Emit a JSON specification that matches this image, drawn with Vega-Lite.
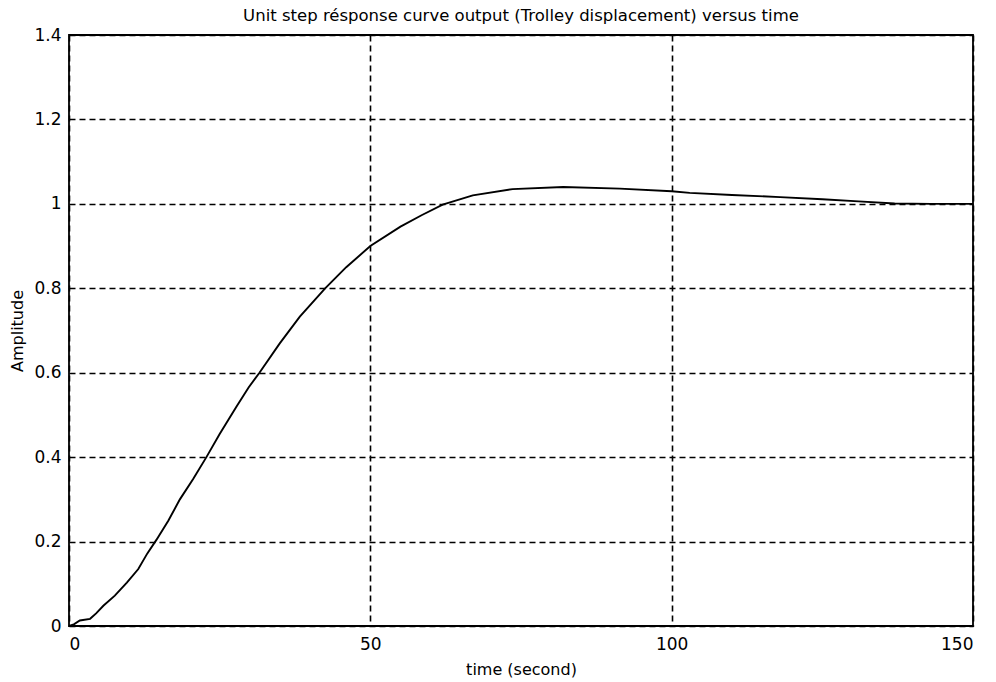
{
  "$schema": "https://vega.github.io/schema/vega-lite/v6.json",
  "width": 904,
  "height": 591,
  "autosize": {"type": "none"},
  "padding": {"left": 69, "top": 35, "right": 23, "bottom": 56},
  "background": "white",
  "title": {
    "text": "Unit step résponse curve output (Trolley displacement) versus time",
    "font": "DejaVu Sans",
    "fontSize": 16.5,
    "fontWeight": "normal",
    "color": "black",
    "anchor": "middle",
    "baseline": "bottom",
    "offset": 9,
    "dy": 23
  },
  "config": {
    "view": {"stroke": "black", "strokeWidth": 1.8},
    "axis": {
      "domain": false,
      "ticks": false,
      "grid": true,
      "gridColor": "black",
      "gridDash": [6, 4],
      "gridWidth": 1.6,
      "gridOpacity": 1,
      "labelFont": "DejaVu Sans",
      "labelFontSize": 17,
      "labelColor": "black",
      "titleFont": "DejaVu Sans",
      "titleFontSize": 16,
      "titleFontWeight": "normal",
      "titleColor": "black"
    }
  },
  "data": {
    "values": [
      {"t": 0, "v": 0},
      {"t": 0.8, "v": 0.004},
      {"t": 1.8, "v": 0.013},
      {"t": 3.5, "v": 0.017},
      {"t": 4.5, "v": 0.03},
      {"t": 5.7, "v": 0.048},
      {"t": 7.6, "v": 0.072},
      {"t": 9.6, "v": 0.103},
      {"t": 11.5, "v": 0.135},
      {"t": 13, "v": 0.172},
      {"t": 14.5, "v": 0.204},
      {"t": 16.5, "v": 0.25},
      {"t": 18.4, "v": 0.3},
      {"t": 20.6, "v": 0.348},
      {"t": 22.8, "v": 0.4},
      {"t": 25, "v": 0.455},
      {"t": 27.8, "v": 0.52},
      {"t": 29.8, "v": 0.565},
      {"t": 31.6, "v": 0.6},
      {"t": 35, "v": 0.67},
      {"t": 38.3, "v": 0.733},
      {"t": 42.5, "v": 0.8},
      {"t": 46, "v": 0.85},
      {"t": 50, "v": 0.9},
      {"t": 55, "v": 0.946},
      {"t": 58.5, "v": 0.973},
      {"t": 62, "v": 0.998},
      {"t": 67, "v": 1.02},
      {"t": 73.6, "v": 1.035},
      {"t": 82, "v": 1.04},
      {"t": 91.4, "v": 1.036},
      {"t": 100, "v": 1.03},
      {"t": 103, "v": 1.026},
      {"t": 110, "v": 1.021},
      {"t": 118, "v": 1.016},
      {"t": 125, "v": 1.011},
      {"t": 131, "v": 1.006},
      {"t": 137, "v": 1.001},
      {"t": 143, "v": 1.0},
      {"t": 150, "v": 1.0}
    ]
  },
  "mark": {"type": "line", "color": "black", "strokeWidth": 1.9},
  "encoding": {
    "x": {
      "field": "t",
      "type": "quantitative",
      "scale": {"domain": [0, 150], "nice": false},
      "axis": {"values": [0, 50, 100, 150], "title": "time (second)", "labelPadding": 10, "titlePadding": 9, "format": "d"}
    },
    "y": {
      "field": "v",
      "type": "quantitative",
      "scale": {"domain": [0, 1.4], "nice": false},
      "axis": {"values": [0, 0.2, 0.4, 0.6, 0.8, 1, 1.2, 1.4], "title": "Amplitude", "labelPadding": 8, "titlePadding": 8, "format": "~g"}
    }
  }
}
